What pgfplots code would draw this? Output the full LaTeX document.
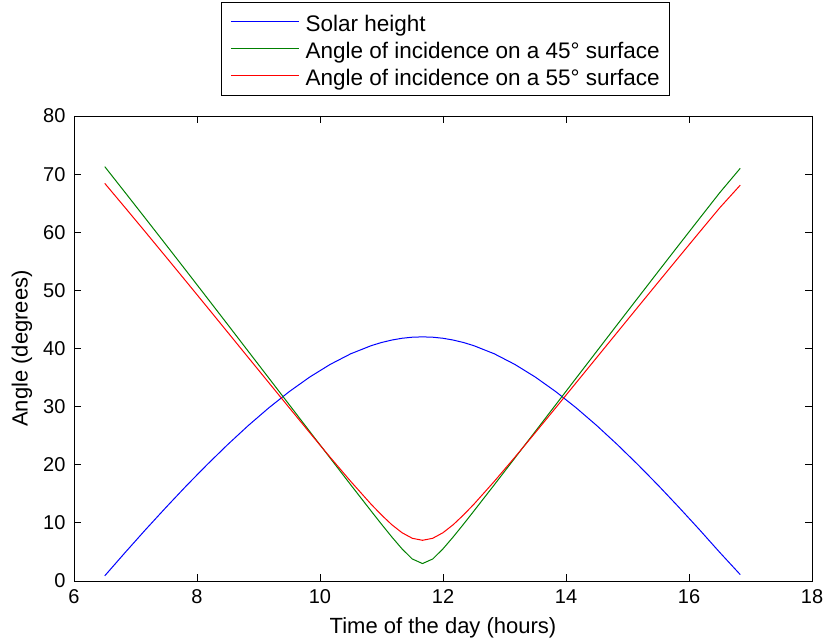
\documentclass[border=0pt]{standalone}
\usepackage{fontspec}
\setmainfont{Liberation Sans}
\usepackage{pgfplots}
\pgfplotsset{compat=1.18}
\usepackage{pgfplotstable}

\pgfplotstableread{
t h g r
6.5 0.89 71.29 68.41
6.8333 4.92 66.81 64.21
7.1667 8.87 62.31 59.97
7.5 12.71 57.79 55.70
7.8333 16.45 53.25 51.41
8.1667 20.04 48.68 47.10
8.5 23.48 44.11 42.78
8.8333 26.74 39.52 38.45
9.1667 29.78 34.93 34.13
9.5 32.58 30.33 29.81
9.8333 35.09 25.72 25.51
10.1667 37.27 21.13 21.27
10.5 39.09 16.54 17.13
10.8333 40.49 12.01 13.18
11.0 41.03 9.77 11.36
11.1667 41.45 7.59 9.69
11.3333 41.76 5.53 8.31
11.5 41.94 3.79 7.35
11.6667 42.00 3.00 7.00
11.8333 41.94 3.79 7.35
12.0 41.76 5.53 8.31
12.1667 41.45 7.59 9.69
12.3333 41.03 9.77 11.36
12.5 40.49 12.01 13.18
12.8333 39.09 16.54 17.13
13.1667 37.27 21.13 21.27
13.5 35.09 25.72 25.51
13.8333 32.58 30.33 29.81
14.1667 29.78 34.93 34.13
14.5 26.74 39.52 38.45
14.8333 23.48 44.11 42.78
15.1667 20.04 48.68 47.10
15.5 16.45 53.25 51.41
15.8333 12.71 57.79 55.70
16.1667 8.87 62.31 59.97
16.5 4.92 66.81 64.21
16.8333 1.10 71.00 68.10
}\data

\definecolor{mblue}{rgb}{0,0,1}
\definecolor{mgreen}{rgb}{0,0.5,0}
\definecolor{mred}{rgb}{1,0,0}

\begin{document}
\begin{tikzpicture}
\begin{axis}[
  scale only axis, width=738bp, height=465bp,
  xmin=6, xmax=18, ymin=0, ymax=80,
  xtick={6,8,...,18}, ytick={0,10,...,80},
  tick align=inside, major tick length=7bp,
  xtick pos=both, ytick pos=both,
  axis line style={line width=0.9bp},
  every tick/.style={black, line width=0.9bp},
  /pgf/number format/assume math mode=true,
  ticklabel style={font=\fontsize{20bp}{24bp}\selectfont},
  xticklabel style={yshift=-5bp},
  yticklabel style={xshift=-5bp},
  label style={font=\fontsize{22bp}{26bp}\selectfont},
  xlabel={Time of the day (hours)},
  ylabel={Angle (degrees)},
  xlabel style={at={(axis description cs:0.5,-0.101)}, anchor=center},
  ylabel style={at={(axis description cs:-0.0705,0.5)}, anchor=center},
  legend cell align=left,
  legend style={at={(0.5027,1.0452)}, anchor=south,
    font=\fontsize{22.5bp}{27bp}\selectfont,
    inner xsep=9.5bp, inner ysep=6bp, row sep=0bp, column sep=6bp,
    nodes={inner xsep=0bp, inner ysep=3bp, text height=21bp, text depth=0bp}},
]
\addplot[mblue, line width=1bp,
  legend image code/.code={\draw[mblue, line width=1.3bp] (0bp,0bp) -- (68bp,0bp);}]
  table[x=t, y=h] {\data};
\addlegendentry{Solar height}
\addplot[mgreen, line width=1bp,
  legend image code/.code={\draw[mgreen, line width=1.3bp] (0bp,0bp) -- (68bp,0bp);}]
  table[x=t, y=g] {\data};
\addlegendentry{Angle of incidence on a 45° surface}
\addplot[mred, line width=1bp,
  legend image code/.code={\draw[mred, line width=1.3bp] (0bp,0bp) -- (68bp,0bp);}]
  table[x=t, y=r] {\data};
\addlegendentry{Angle of incidence on a 55° surface}
\end{axis}
\pgfresetboundingbox
\useasboundingbox (current axis.south west) ++(-74bp,-61bp) rectangle ([xshift=16bp, yshift=116bp]current axis.north east);
\end{tikzpicture}
\end{document}
